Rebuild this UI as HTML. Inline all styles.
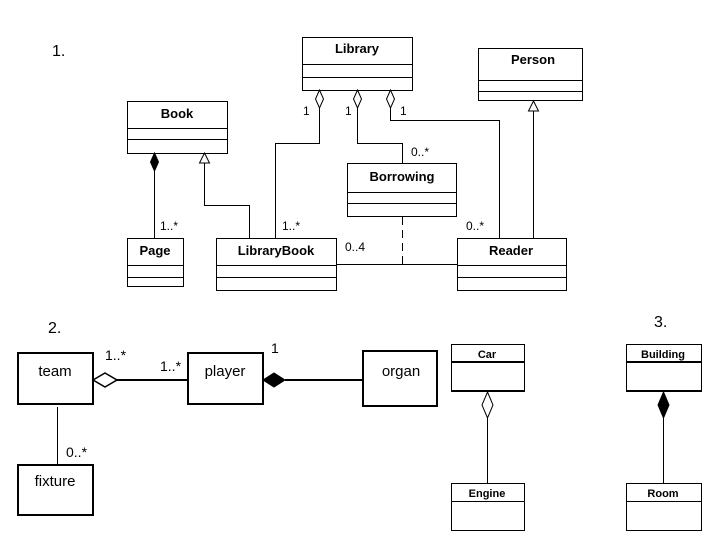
<!DOCTYPE html>
<html><head><meta charset="utf-8"><style>
html,body{margin:0;padding:0;background:#fff;}
svg{display:block;}
text{font-family:"Liberation Sans",sans-serif;fill:#000;}
.b{font-weight:bold;font-size:13px;}
.s{font-size:12px;}
.n{font-size:16px;}
</style></head><body>
<svg width="720" height="540" viewBox="0 0 720 540" xmlns="http://www.w3.org/2000/svg">
<g fill="none" stroke="#000" stroke-width="1">
<!-- Diagram 1 boxes -->
<rect x="302.5" y="37.5" width="110" height="53"/><line x1="302" y1="64.5" x2="412" y2="64.5"/><line x1="302" y1="77.5" x2="412" y2="77.5"/>
<rect x="478.5" y="48.5" width="104" height="52"/><line x1="478" y1="80.5" x2="582" y2="80.5"/><line x1="478" y1="91.5" x2="582" y2="91.5"/>
<rect x="127.5" y="101.5" width="100" height="52"/><line x1="127" y1="128.5" x2="227" y2="128.5"/><line x1="127" y1="139.5" x2="227" y2="139.5"/>
<rect x="347.5" y="163.5" width="109" height="53"/><line x1="347" y1="192.5" x2="456" y2="192.5"/><line x1="347" y1="203.5" x2="456" y2="203.5"/>
<rect x="127.5" y="238.5" width="56" height="48"/><line x1="127" y1="265.5" x2="183" y2="265.5"/><line x1="127" y1="277.5" x2="183" y2="277.5"/>
<rect x="216.5" y="238.5" width="120" height="52"/><line x1="216" y1="265.5" x2="336" y2="265.5"/><line x1="216" y1="277.5" x2="336" y2="277.5"/>
<rect x="457.5" y="238.5" width="109" height="52"/><line x1="457" y1="265.5" x2="566" y2="265.5"/><line x1="457" y1="277.5" x2="566" y2="277.5"/>
<!-- connectors -->
<line x1="154.5" y1="171" x2="154.5" y2="238"/>
<polyline points="204.5,163 204.5,205.5 249.5,205.5 249.5,238"/>
<polyline points="319.5,108 319.5,143.5 275.5,143.5 275.5,238"/>
<polyline points="357.5,108 357.5,143.5 402.5,143.5 402.5,163"/>
<polyline points="390.5,108 390.5,120.5 499.5,120.5 499.5,238"/>
<line x1="533.5" y1="111" x2="533.5" y2="238"/>
<line x1="336" y1="264.5" x2="457" y2="264.5"/>
<line x1="402.5" y1="217" x2="402.5" y2="264" stroke-dasharray="8,5"/>
<polygon points="319.5,90 323.5,99 319.5,108 315.5,99" fill="#fff"/>
<polygon points="357.5,90 361.5,99 357.5,108 353.5,99" fill="#fff"/>
<polygon points="390.5,90 394.5,99 390.5,108 386.5,99" fill="#fff"/>
<polygon points="154.5,153 158.5,162 154.5,171 150.5,162" fill="#000"/>
<polygon points="204.5,153 209.5,163 199.5,163" fill="#fff"/>
<polygon points="533.5,101 538.5,111 528.5,111" fill="#fff"/>
<!-- Diagram 2 -->
<g stroke-width="2">
<rect x="18" y="353" width="75" height="51"/>
<rect x="188" y="353" width="75" height="51"/>
<rect x="363" y="351" width="74" height="55"/>
<rect x="18" y="465" width="75" height="50"/>
<line x1="117" y1="380" x2="188" y2="380"/>
<line x1="285" y1="380" x2="363" y2="380"/>
</g>
<line x1="57.5" y1="407" x2="57.5" y2="465"/>
<polygon points="93,380 105,373 117,380 105,387" fill="#fff" stroke-width="1.5"/>
<polygon points="263,380 274,373 285,380 274,387" fill="#000"/>
<!-- Diagram 3 -->
<rect x="451.5" y="344.5" width="73" height="47"/><line x1="451" y1="362" x2="524" y2="362" stroke-width="2"/><line x1="451" y1="391" x2="524" y2="391" stroke-width="2"/>
<rect x="451.5" y="483.5" width="73" height="47"/><line x1="451" y1="501.5" x2="524" y2="501.5"/>
<rect x="626.5" y="344.5" width="75" height="47"/><line x1="626" y1="362" x2="701" y2="362" stroke-width="2"/><line x1="626" y1="391" x2="701" y2="391" stroke-width="2"/>
<rect x="626.5" y="483.5" width="75" height="47"/><line x1="626" y1="501.5" x2="701" y2="501.5"/>
<line x1="487.5" y1="418" x2="487.5" y2="483"/>
<line x1="663.5" y1="418" x2="663.5" y2="483"/>
<polygon points="487.5,392 493,405 487.5,418 482,405" fill="#fff"/>
<polygon points="663.5,392 669,405 663.5,418 658,405" fill="#000"/>
</g>
<!-- text -->
<text class="n" x="52" y="56">1.</text>
<text class="n" x="48" y="333">2.</text>
<text class="n" x="654" y="327">3.</text>
<text class="b" x="357" y="53" text-anchor="middle">Library</text>
<text class="b" x="533" y="64" text-anchor="middle">Person</text>
<text class="b" x="177" y="118" text-anchor="middle">Book</text>
<text class="b" x="402" y="181" text-anchor="middle">Borrowing</text>
<text class="b" x="155" y="255" text-anchor="middle">Page</text>
<text class="b" x="276" y="255" text-anchor="middle">LibraryBook</text>
<text class="b" x="511" y="255" text-anchor="middle">Reader</text>
<text class="s" x="303" y="115">1</text>
<text class="s" x="345" y="115">1</text>
<text class="s" x="400" y="115">1</text>
<text class="s" x="411" y="156">0..*</text>
<text class="s" x="160" y="230">1..*</text>
<text class="s" x="282" y="230">1..*</text>
<text class="s" x="345" y="251">0..4</text>
<text class="s" x="466" y="230">0..*</text>
<text class="s" x="55" y="376" text-anchor="middle" style="font-size:15px">team</text>
<text class="s" x="225" y="376" text-anchor="middle" style="font-size:15px">player</text>
<text class="s" x="401" y="376" text-anchor="middle" style="font-size:15px">organ</text>
<text class="s" x="55" y="486" text-anchor="middle" style="font-size:15px">fixture</text>
<text class="s" x="105" y="360" style="font-size:14px">1..*</text>
<text class="s" x="160" y="371" style="font-size:14px">1..*</text>
<text class="s" x="271" y="353" style="font-size:14px">1</text>
<text class="s" x="66" y="457" style="font-size:14px">0..*</text>
<text class="b" x="487" y="358" text-anchor="middle" style="font-size:11px">Car</text>
<text class="b" x="487" y="497" text-anchor="middle" style="font-size:11px">Engine</text>
<text class="b" x="663" y="358" text-anchor="middle" style="font-size:11px">Building</text>
<text class="b" x="663" y="497" text-anchor="middle" style="font-size:11px">Room</text>
</svg>
</body></html>
